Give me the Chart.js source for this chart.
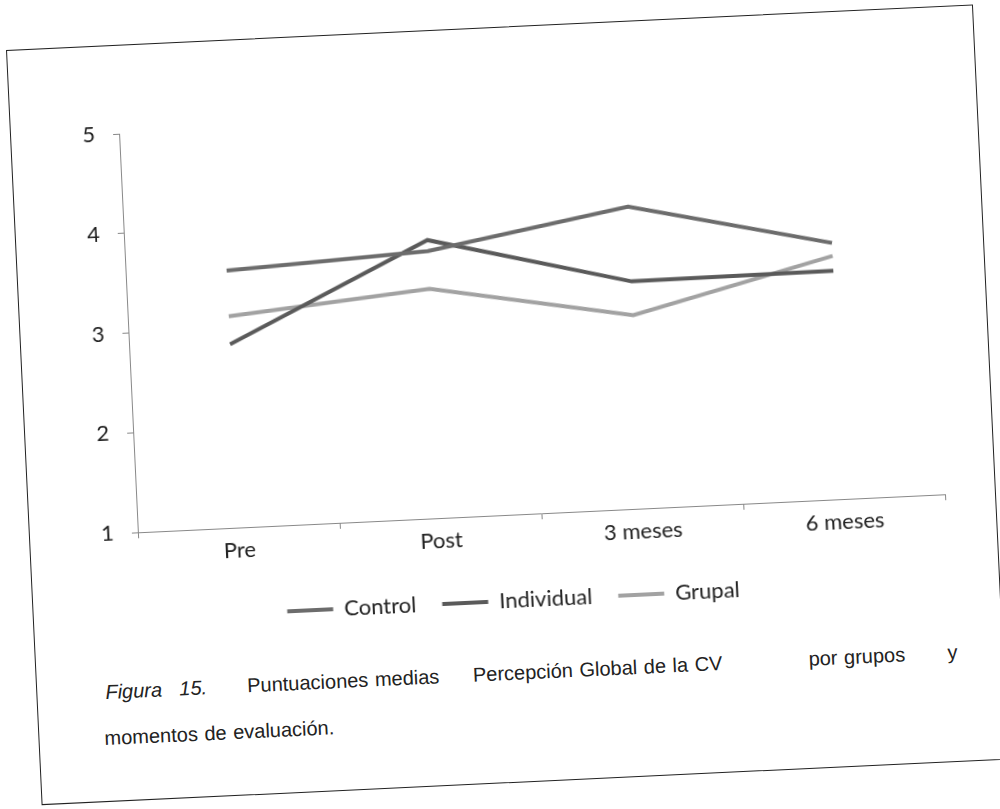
<!DOCTYPE html>
<html>
<head>
<meta charset="utf-8">
<script src="https://cdn.jsdelivr.net/npm/chart.js"></script>
<style>
  body { margin: 0; background: #fff; width: 1000px; height: 809px; overflow: hidden; position: relative; }
  #box { position: absolute; left: 6px; top: 50px; width: 968px; height: 756px; border: 1.6px solid #222;
         box-sizing: border-box; transform-origin: 0 0; transform: rotate(-2.7deg); background: #fff; }
  #chart { position: absolute; left: 0; top: 0; }
  .cap { position: absolute; font-family: "Liberation Sans", Arial, sans-serif; font-size: 20px; color: #222;
         line-height: 42px; white-space: nowrap; word-spacing: 1px; }
  .l1 { top: 624px; }
  .l2 { top: 670px; }
</style>
</head>
<body>
<div id="box">
  <canvas id="chart" width="965" height="600"></canvas>
  <span class="cap l1" style="left:68px"><i>Figura</i></span>
  <span class="cap l1" style="left:142px"><i>15.</i></span>
  <span class="cap l1" style="left:210px">Puntuaciones medias</span>
  <span class="cap l1" style="left:436px">Percepción Global de la CV</span>
  <span class="cap l1" style="left:772px">por grupos</span>
  <span class="cap l1" style="left:911px">y</span>
  <span class="cap l2" style="left:65px">momentos de evaluación.</span>
</div>
<script>
// valores
const categories = ['Pre', 'Post', '3 meses', '6 meses'];
const control = [3.58, 3.68, 4.03, 3.57];
const individual = [2.84, 3.79, 3.28, 3.29];
const grupal = [3.12, 3.30, 2.94, 3.44];
const yTicks = [1, 2, 3, 4, 5];

const tickFont = { family: 'Lato', size: 22 };
const legendFont = { family: 'Lato', size: 22 };

function serie(label, values, color) {
  return {
    label: label,
    data: values,
    borderColor: color,
    backgroundColor: color,
    pointBorderColor: color,
    pointBorderWidth: 4
  };
}

const data = {
  labels: categories,
  datasets: [
    serie('Control', control, '#6c6c6c'),
    serie('Individual', individual, '#5a5a5a'),
    serie('Grupal', grupal, '#a2a2a2')
  ]
};

const config = {
  type: 'line',
  data: data,
  options: {
    responsive: false,
    animation: false,
    // left padding + ancho eje y = 108 (borde izq. del area de trazado)
    layout: { padding: { top: 88, right: 49, left: 44, bottom: 6 } },
    elements: {
      line: { borderWidth: 4, tension: 0 },
      point: { radius: 0 }
    },
    plugins: {
      tooltip: { enabled: false },
      legend: {
        position: 'bottom',
        labels: {
          usePointStyle: true,
          pointStyle: 'line',
          pointStyleWidth: 46,
          padding: 26,
          color: '#222',
          font: legendFont
        }
      }
    },
    scales: {
      x: {
        offset: true,
        grid: { offset: true, drawOnChartArea: false, tickLength: 6, color: '#888' },
        border: { color: '#888' },
        ticks: { font: tickFont, color: '#222', padding: 4, maxRotation: 0 },
        afterFit: (s) => { s.height = 49; }
      },
      y: {
        min: 1,
        max: 5,
        afterBuildTicks: (s) => { s.ticks = yTicks.map(v => ({ value: v })); },
        grid: { drawOnChartArea: false, tickLength: 6, color: '#888' },
        border: { color: '#888' },
        ticks: { font: tickFont, color: '#222', padding: 18 },
        afterFit: (s) => { s.width = 64; }
      }
    }
  }
};

const myChart = new Chart(document.getElementById('chart'), config);
</script>
</body>
</html>
